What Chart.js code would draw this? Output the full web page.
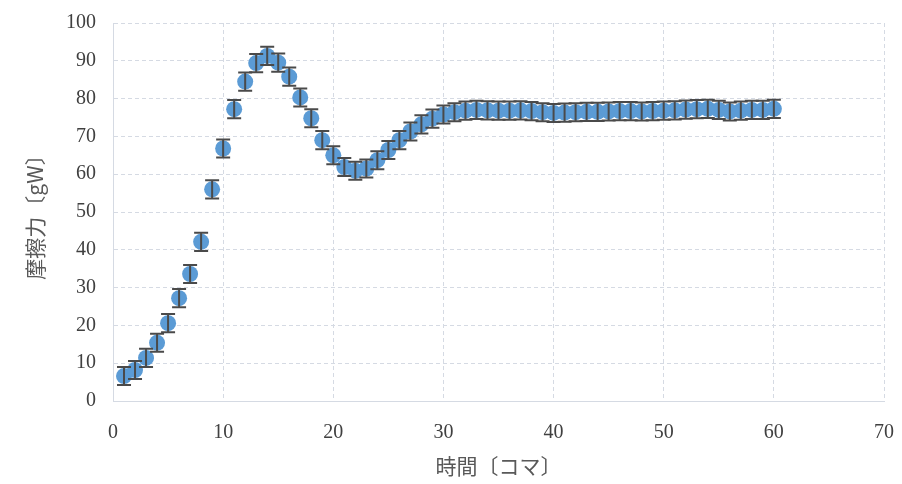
<!DOCTYPE html>
<html lang="ja">
<head>
  <meta charset="UTF-8" />
  <title>摩擦力の時間変化</title>
  <script src="https://cdn.jsdelivr.net/npm/chart.js@4"></script>
  <style>
    html, body { margin: 0; padding: 0; background: #fff; }
    #wrap { width: 902px; height: 484px; }
  </style>
</head>
<body>
  <div id="wrap"><canvas id="frictionChart" width="902" height="484"></canvas></div>

  <script>
    // frame numbers (コマ) and measured friction force (gW)
    const frames = [
      1, 2, 3, 4, 5, 6, 7, 8, 9, 10,
      11, 12, 13, 14, 15, 16, 17, 18, 19, 20,
      21, 22, 23, 24, 25, 26, 27, 28, 29, 30,
      31, 32, 33, 34, 35, 36, 37, 38, 39, 40,
      41, 42, 43, 44, 45, 46, 47, 48, 49, 50,
      51, 52, 53, 54, 55, 56, 57, 58, 59, 60
    ];
    const friction = [
      6.6, 8.2, 11.4, 15.4, 20.6, 27.2, 33.6, 42.1, 56.0, 66.8,
      77.2, 84.5, 89.4, 91.3, 89.5, 85.8, 80.3, 74.8, 69.0, 65.0,
      61.9, 60.9, 61.5, 63.7, 66.4, 69.0, 71.3, 73.2, 74.7, 75.8,
      76.4, 76.8, 77.0, 76.9, 76.8, 76.8, 76.9, 76.7, 76.4, 76.2,
      76.3, 76.4, 76.5, 76.5, 76.6, 76.7, 76.7, 76.6, 76.7, 76.8,
      76.9, 77.1, 77.2, 77.3, 77.0, 76.6, 76.8, 77.0, 77.0, 77.3
    ];
    // standard error for every point
    const frictionErr = frames.map(() => 2.4);

    const xTicks = { min: 0, max: 70, step: 10 };
    const yTicks = { min: 0, max: 100, step: 10 };

    const serif = "'Liberation Serif', 'DejaVu Serif', serif";
    const jp = "'Noto Sans CJK JP', sans-serif";

    // vertical error bars with caps, drawn on top of the markers
    const errorBars = {
      id: 'errorBars',
      afterDatasetsDraw(chart) {
        const { ctx, scales: { x, y } } = chart;
        ctx.save();
        ctx.strokeStyle = '#4a4a4a';
        ctx.lineWidth = 2;
        frames.forEach((f, i) => {
          const px = x.getPixelForValue(f);
          const top = y.getPixelForValue(friction[i] + frictionErr[i]);
          const bot = y.getPixelForValue(friction[i] - frictionErr[i]);
          ctx.beginPath();
          ctx.moveTo(px, top); ctx.lineTo(px, bot);
          ctx.moveTo(px - 7, top); ctx.lineTo(px + 7, top);
          ctx.moveTo(px - 7, bot); ctx.lineTo(px + 7, bot);
          ctx.stroke();
        });
        ctx.restore();
      }
    };

    // keep the plot box fixed: no extra room reserved for edge labels
    function noEdgePadding(scale) {
      scale.paddingLeft = 0;
      scale.paddingRight = 0;
      scale.paddingTop = 0;
      scale.paddingBottom = 0;
    }

    const ctx = document.getElementById('frictionChart').getContext('2d');
    new Chart(ctx, {
      type: 'scatter',
      data: {
        datasets: [{
          label: '摩擦力',
          data: frames.map((f, i) => ({ x: f, y: friction[i] })),
          pointRadius: 8,
          pointHoverRadius: 8,
          pointBackgroundColor: '#5b9bd5',
          pointBorderColor: '#5b9bd5',
          pointBorderWidth: 0
        }]
      },
      options: {
        responsive: false,
        animation: false,
        layout: { padding: { top: 23, right: 18, left: 0, bottom: 0 } },
        plugins: { legend: { display: false }, tooltip: { enabled: false } },
        scales: {
          x: {
            type: 'linear',
            min: xTicks.min, max: xTicks.max,
            afterFit(scale) { scale.height = 83; noEdgePadding(scale); },
            ticks: { stepSize: xTicks.step, color: '#404040', padding: 20, font: { family: serif, size: 20 } },
            grid: { color: '#d5dae3', lineWidth: 1, drawTicks: false },
            border: { color: '#d5dae3', dash: [4, 3] },
            title: {
              display: true, text: '時間〔コマ〕', color: '#595959',
              font: { family: jp, size: 21 }, padding: { top: 0, bottom: 5 }
            }
          },
          y: {
            min: yTicks.min, max: yTicks.max,
            afterFit(scale) { scale.width = 113; noEdgePadding(scale); },
            ticks: { stepSize: yTicks.step, color: '#404040', padding: 17, font: { family: serif, size: 20 } },
            grid: { color: '#d5dae3', lineWidth: 1, drawTicks: false },
            border: { color: '#d5dae3', dash: [4, 3] },
            title: {
              display: true, text: '摩擦力〔gW〕', color: '#595959',
              font: { family: jp, size: 21 }, padding: { top: 22, bottom: 0 }
            }
          }
        }
      },
      plugins: [errorBars]
    });
  </script>
</body>
</html>
